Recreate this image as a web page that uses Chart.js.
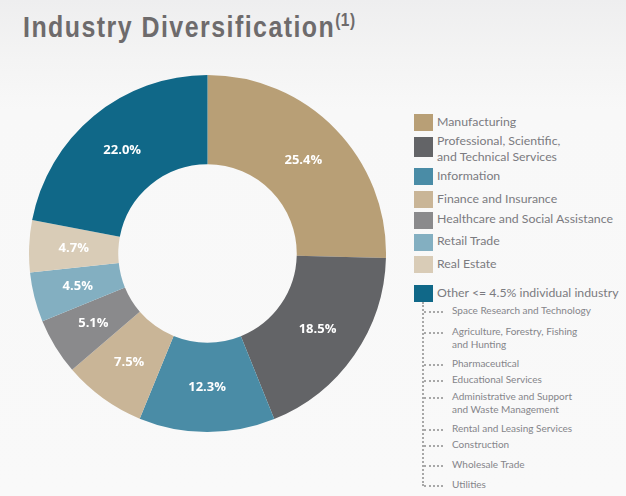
<!DOCTYPE html>
<html><head><meta charset="utf-8">
<script src="https://cdn.jsdelivr.net/npm/chart.js@4"></script>
<style>
html,body{margin:0;padding:0;}
body{width:626px;height:496px;position:relative;overflow:hidden;
 background:linear-gradient(180deg,#eeeeef 0px,#f4f4f4 60px,#f8f8f8 110px,#f9f9f9 100%);
 font-family:Lato,"Open Sans",sans-serif;}
#title{position:absolute;left:23px;top:13px;font-family:"Liberation Sans",Arial,sans-serif;font-weight:bold;
 font-size:29px;line-height:29px;color:#6e6b6c;white-space:nowrap;transform-origin:0 0;transform:scaleX(0.86);letter-spacing:1.7px;}
#title .sup{font-size:18px;position:relative;top:-11px;letter-spacing:0.5px;}
#chartBox{position:absolute;left:29px;top:75px;width:357px;height:357px;}
.lg{position:absolute;left:414px;width:19px;height:17px;}
.lt{position:absolute;left:437px;font-size:12.3px;color:#7b7b80;line-height:16px;white-space:nowrap;}
.st{position:absolute;left:452px;font-size:10px;color:#85858a;line-height:13px;white-space:nowrap;}
.vd{position:absolute;left:422px;top:302px;height:184px;border-left:2px dotted #a8a8a8;}
.hd{position:absolute;left:424px;width:19px;border-top:2px dotted #a8a8a8;}
</style></head>
<body>
<div id="title">Industry Diversification<span class="sup">(1)</span></div>
<div id="chartBox"><canvas id="c"></canvas></div>
<div id="legend"></div>
<script>
const categories = ["Manufacturing","Professional, Scientific, and Technical Services","Information","Finance and Insurance","Healthcare and Social Assistance","Retail Trade","Real Estate","Other <= 4.5% individual industry"];
const legendLines = [["Manufacturing"],["Professional, Scientific,","and Technical Services"],["Information"],["Finance and Insurance"],["Healthcare and Social Assistance"],["Retail Trade"],["Real Estate"],["Other <= 4.5% individual industry"]];
const shares = [25.4,18.5,12.3,7.5,5.1,4.5,4.7,22.0];
const colors = ["#b89f76","#636467","#4a8ca6","#c9b597","#8a8a8c","#83afc1","#d9ccb7","#106888"];
const otherIndustries = [["Space Research and Technology"],["Agriculture, Forestry, Fishing","and Hunting"],["Pharmaceutical"],["Educational Services"],["Administrative and Support","and Waste Management"],["Rental and Leasing Services"],["Construction"],["Wholesale Trade"],["Utilities"]];

// legend layout
const legendSquareY=[114,137,168,191,212,234,256,285];
const legendTextY=[114,133,168,191,211,233,256,285];
const subY=[304,325,357,373,390,422,438,458,478];
const lg=document.getElementById('legend');
legendLines.forEach((lines,i)=>{
  const s=document.createElement('div');s.className='lg';s.style.top=legendSquareY[i]+'px';s.style.background=colors[i];
  if(i===1) s.style.height='20px';
  lg.appendChild(s);
  const t=document.createElement('div');t.className='lt';t.style.top=legendTextY[i]+'px';t.innerHTML=lines.map(l=>l.replace(/</g,'&lt;')).join('<br>');
  lg.appendChild(t);
});
const vd=document.createElement('div');vd.className='vd';lg.appendChild(vd);
otherIndustries.forEach((lines,i)=>{
  const t=document.createElement('div');t.className='st';t.style.top=subY[i]+'px';t.innerHTML=lines.join('<br>');lg.appendChild(t);
  const h=document.createElement('div');h.className='hd';h.style.top=(subY[i]+7)+'px';lg.appendChild(h);
});

const labelPlugin={id:'sliceLabels',afterDatasetsDraw(chart){
  const ctx=chart.ctx;const meta=chart.getDatasetMeta(0);
  ctx.save();ctx.fillStyle='#ffffff';ctx.font='bold 13px "Open Sans", Lato, sans-serif';
  ctx.textAlign='center';ctx.textBaseline='middle';
  meta.data.forEach((arc,i)=>{const p=arc.tooltipPosition();ctx.fillText(shares[i].toFixed(1)+'%',p.x,p.y);});
  ctx.restore();}};

new Chart(document.getElementById('c'),{
  type:'doughnut',
  data:{labels:categories,datasets:[{data:shares,backgroundColor:colors,borderWidth:0}]},
  options:{responsive:true,maintainAspectRatio:false,animation:false,cutout:'50%',
    plugins:{legend:{display:false},tooltip:{enabled:false}},layout:{padding:0}},
  plugins:[labelPlugin]
});
</script>
</body></html>
